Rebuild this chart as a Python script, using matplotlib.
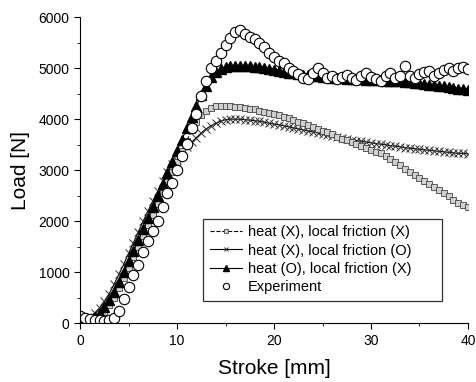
import numpy as np
import matplotlib.pyplot as plt

plt.rcParams['font.family'] = ['Liberation Sans', 'DejaVu Sans']

# stroke positions [mm], one reading every 0.5 mm
stroke = np.arange(0, 40.01, 0.5)

# heat (X), local friction (X)
load_sq = [80, 60, 60, 80, 130, 220, 350, 500, 680, 880,
           1080, 1290, 1500, 1710, 1920, 2130, 2340, 2550, 2760, 2970,
           3170, 3380, 3580, 3780, 3950, 4080, 4170, 4220, 4250, 4260,
           4260, 4250, 4240, 4230, 4220, 4200, 4190, 4170, 4150, 4130,
           4110, 4080, 4050, 4020, 3990, 3950, 3920, 3880, 3850, 3810,
           3770, 3740, 3700, 3660, 3620, 3590, 3560, 3520, 3480, 3440,
           3400, 3360, 3330, 3280, 3220, 3160, 3100, 3030, 2960, 2900,
           2850, 2790, 2730, 2680, 2620, 2550, 2490, 2420, 2360, 2310,
           2270]

# heat (X), local friction (O)
load_x = [100, 100, 130, 200, 300, 430, 580, 760, 960, 1160,
          1370, 1580, 1790, 2000, 2200, 2400, 2590, 2780, 2960, 3130,
          3200, 3330, 3450, 3550, 3640, 3730, 3810, 3870, 3920, 3960,
          3990, 4000, 4000, 4000, 3990, 3980, 3970, 3960, 3940, 3920,
          3900, 3890, 3870, 3850, 3830, 3810, 3790, 3770, 3750, 3730,
          3710, 3690, 3670, 3660, 3640, 3620, 3600, 3580, 3570, 3550,
          3540, 3520, 3510, 3500, 3480, 3470, 3460, 3440, 3430, 3420,
          3410, 3400, 3390, 3380, 3370, 3360, 3350, 3340, 3330, 3330,
          3320]

# heat (O), local friction (X)
load_tri = [100, 80, 80, 120, 200, 310, 450, 620, 810, 1010,
            1210, 1420, 1630, 1840, 2060, 2280, 2500, 2720, 2940, 3160,
            3380, 3600, 3820, 4040, 4260, 4470, 4660, 4820, 4930, 4990,
            5030, 5040, 5050, 5050, 5050, 5040, 5030, 5020, 5000, 4990,
            4970, 4950, 4930, 4910, 4900, 4880, 4870, 4860, 4850, 4840,
            4830, 4820, 4810, 4800, 4800, 4790, 4790, 4780, 4780, 4770,
            4770, 4760, 4760, 4750, 4750, 4740, 4740, 4730, 4720, 4710,
            4700, 4690, 4680, 4670, 4660, 4650, 4630, 4610, 4600, 4590,
            4580]

# experiment
load_exp = [150, 100, 80, 60, 70, 50, 60, 100, 230, 480,
            700, 950, 1150, 1400, 1620, 1800, 2000, 2280, 2550, 2750,
            3000, 3280, 3520, 3820, 4100, 4450, 4750, 5000, 5150, 5300,
            5450, 5600, 5700, 5750, 5680, 5620, 5580, 5500, 5420, 5300,
            5220, 5150, 5100, 5000, 4950, 4880, 4800, 4780, 4900, 5000,
            4900, 4800, 4850, 4780, 4820, 4870, 4800, 4760, 4850, 4900,
            4820, 4780, 4750, 4850, 4900, 4800, 4850, 5050, 4850, 4800,
            4880, 4920, 4950, 4850, 4900, 4960, 5000, 4950, 5000, 5020,
            4980]

labels = ['heat (X), local friction (X)', 'heat (X), local friction (O)',
          'heat (O), local friction (X)', 'Experiment']

fig = plt.figure(figsize=(4.77, 3.82), dpi=100)
ax = fig.add_axes([0.168, 0.154, 0.813, 0.801])

ax.plot(stroke, load_x, color='black', lw=0.8, marker='x', ms=6,
        mew=0.7, mec='#333333', label=labels[1])
ax.plot(stroke, load_sq, color='black', lw=0.8, ls='--', marker='s', ms=4.5,
        mfc='#d0d0d0', mec='#444444', mew=0.6, label=labels[0])
ax.plot(stroke, load_tri, color='black', lw=0.8, marker='^', ms=6.5,
        mfc='black', mec='black', label=labels[2])
ax.plot(stroke, load_exp, ls='none', marker='o', ms=7.5, mfc='white',
        mec='black', mew=0.8, label=labels[3])

ax.set_xlim(0, 40)
ax.set_ylim(0, 6000)
ax.set_xticks([0, 10, 20, 30, 40])
ax.set_xticks([5, 15, 25, 35], minor=True)
ax.set_yticks([0, 1000, 2000, 3000, 4000, 5000, 6000])
ax.set_yticks(np.arange(500, 6000, 1000), minor=True)
ax.spines['top'].set_visible(False)
ax.spines['right'].set_visible(False)
ax.tick_params(which='major', direction='out', length=4, labelsize=10)
ax.tick_params(which='minor', direction='out', length=2.5)
ax.set_xlabel('Stroke [mm]', fontsize=15, labelpad=8)
ax.set_ylabel('Load [N]', fontsize=15, labelpad=6)

h, l = ax.get_legend_handles_labels()
order = [1, 0, 2, 3]
leg = ax.legend([h[i] for i in order], [l[i] for i in order],
                loc='lower left', bbox_to_anchor=(0.299, 0.049, 0.652, 0.27),
                mode='expand', fontsize=10.5, frameon=True, fancybox=False,
                edgecolor='black', handlelength=2.2, handletextpad=0.4,
                labelspacing=0.3, borderpad=0.45, markerscale=0.6)
leg.get_frame().set_linewidth(0.9)

fig.savefig('out.png', dpi=100)
